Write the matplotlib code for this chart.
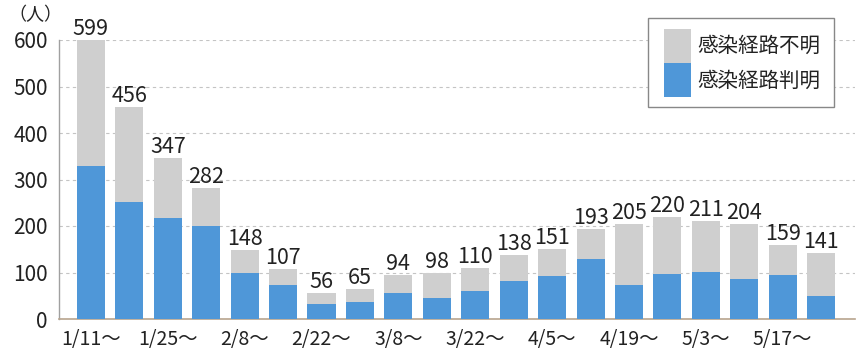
import matplotlib
matplotlib.use("Agg")
import matplotlib.pyplot as plt
from matplotlib.patches import Rectangle

plt.rcParams['font.family'] = ['Noto Sans CJK JP', 'DejaVu Sans']

weeks = ["1/11〜", "1/18〜", "1/25〜", "2/1〜", "2/8〜", "2/15〜", "2/22〜", "3/1〜",
         "3/8〜", "3/15〜", "3/22〜", "3/29〜", "4/5〜", "4/12〜", "4/19〜", "4/26〜",
         "5/3〜", "5/10〜", "5/17〜", "5/24〜"]
totals = [599, 456, 347, 282, 148, 107, 56, 65, 94, 98, 110, 138, 151, 193, 205, 220,
          211, 204, 159, 141]
known = [330, 252, 217, 199, 100, 73, 32, 37, 55, 46, 61, 81, 92, 129, 74, 96,
         101, 86, 94, 50]
unknown = [t - k for t, k in zip(totals, known)]
yticks = [0, 100, 200, 300, 400, 500, 600]
label_known = "感染経路判明"
label_unknown = "感染経路不明"

c_blue = "#4f97d8"
c_gray = "#cfcfcf"
c_text = "#222222"

W, H = 863, 355
fig = plt.figure(figsize=(W / 100, H / 100), dpi=100)
ax = fig.add_axes([59 / W, (H - 319) / H, (855 - 59) / W, (319 - 40) / H])

x = list(range(len(weeks)))
w = 0.73
ax.bar(x, known, width=w, color=c_blue, zorder=3)
ax.bar(x, unknown, width=w, bottom=known, color=c_gray, zorder=3)

for xi, t in zip(x, totals):
    ax.annotate(str(t), (xi, t), xytext=(0, 0), textcoords="offset points",
                ha="center", va="bottom", fontsize=15.5, color=c_text,
                annotation_clip=False)

ax.set_xlim(-0.83, len(weeks) - 1 + 0.88)
ax.set_ylim(0, 600)
ax.set_yticks(yticks)
ax.set_yticklabels([str(v) for v in yticks], fontsize=15, color=c_text)
ax.set_xticks(x[::2])
ax.set_xticklabels(weeks[::2], fontsize=14, color=c_text)
ax.tick_params(axis="y", length=0, pad=8)
ax.tick_params(axis="x", length=0, pad=7)

ax.grid(axis="y", color="#c4c4c4", linestyle=(0, (3, 3)), linewidth=0.8, zorder=0)
ax.set_axisbelow(True)
for s in ["top", "right"]:
    ax.spines[s].set_visible(False)
ax.spines["left"].set_color("#a0a0a0")
ax.spines["bottom"].set_color("#b8a48e")
ax.spines["left"].set_linewidth(1.0)
ax.spines["bottom"].set_linewidth(1.2)

fig.text(35 / W, 1 - 15 / H, "（人）", ha="center", va="center", fontsize=13,
         color=c_text)

# legend (drawn in figure pixel coordinates)
def fx(px):
    return px / W

def fy(py):
    return 1 - py / H

fig.add_artist(Rectangle((fx(648), fy(107)), fx(834) - fx(648), fy(18) - fy(107),
                         transform=fig.transFigure, facecolor="white",
                         edgecolor="#888888", linewidth=1.0, zorder=5))
fig.add_artist(Rectangle((fx(664), fy(63)), fx(691) - fx(664), fy(29) - fy(63),
                         transform=fig.transFigure, facecolor=c_gray,
                         edgecolor="none", zorder=6))
fig.add_artist(Rectangle((fx(664), fy(97)), fx(691) - fx(664), fy(63) - fy(97),
                         transform=fig.transFigure, facecolor=c_blue,
                         edgecolor="none", zorder=6))
fig.text(fx(697), fy(46), label_unknown, ha="left", va="center", fontsize=14.8,
         color=c_text, zorder=7)
fig.text(fx(697), fy(81), label_known, ha="left", va="center", fontsize=14.8,
         color=c_text, zorder=7)

fig.savefig("out.png", dpi=100)
